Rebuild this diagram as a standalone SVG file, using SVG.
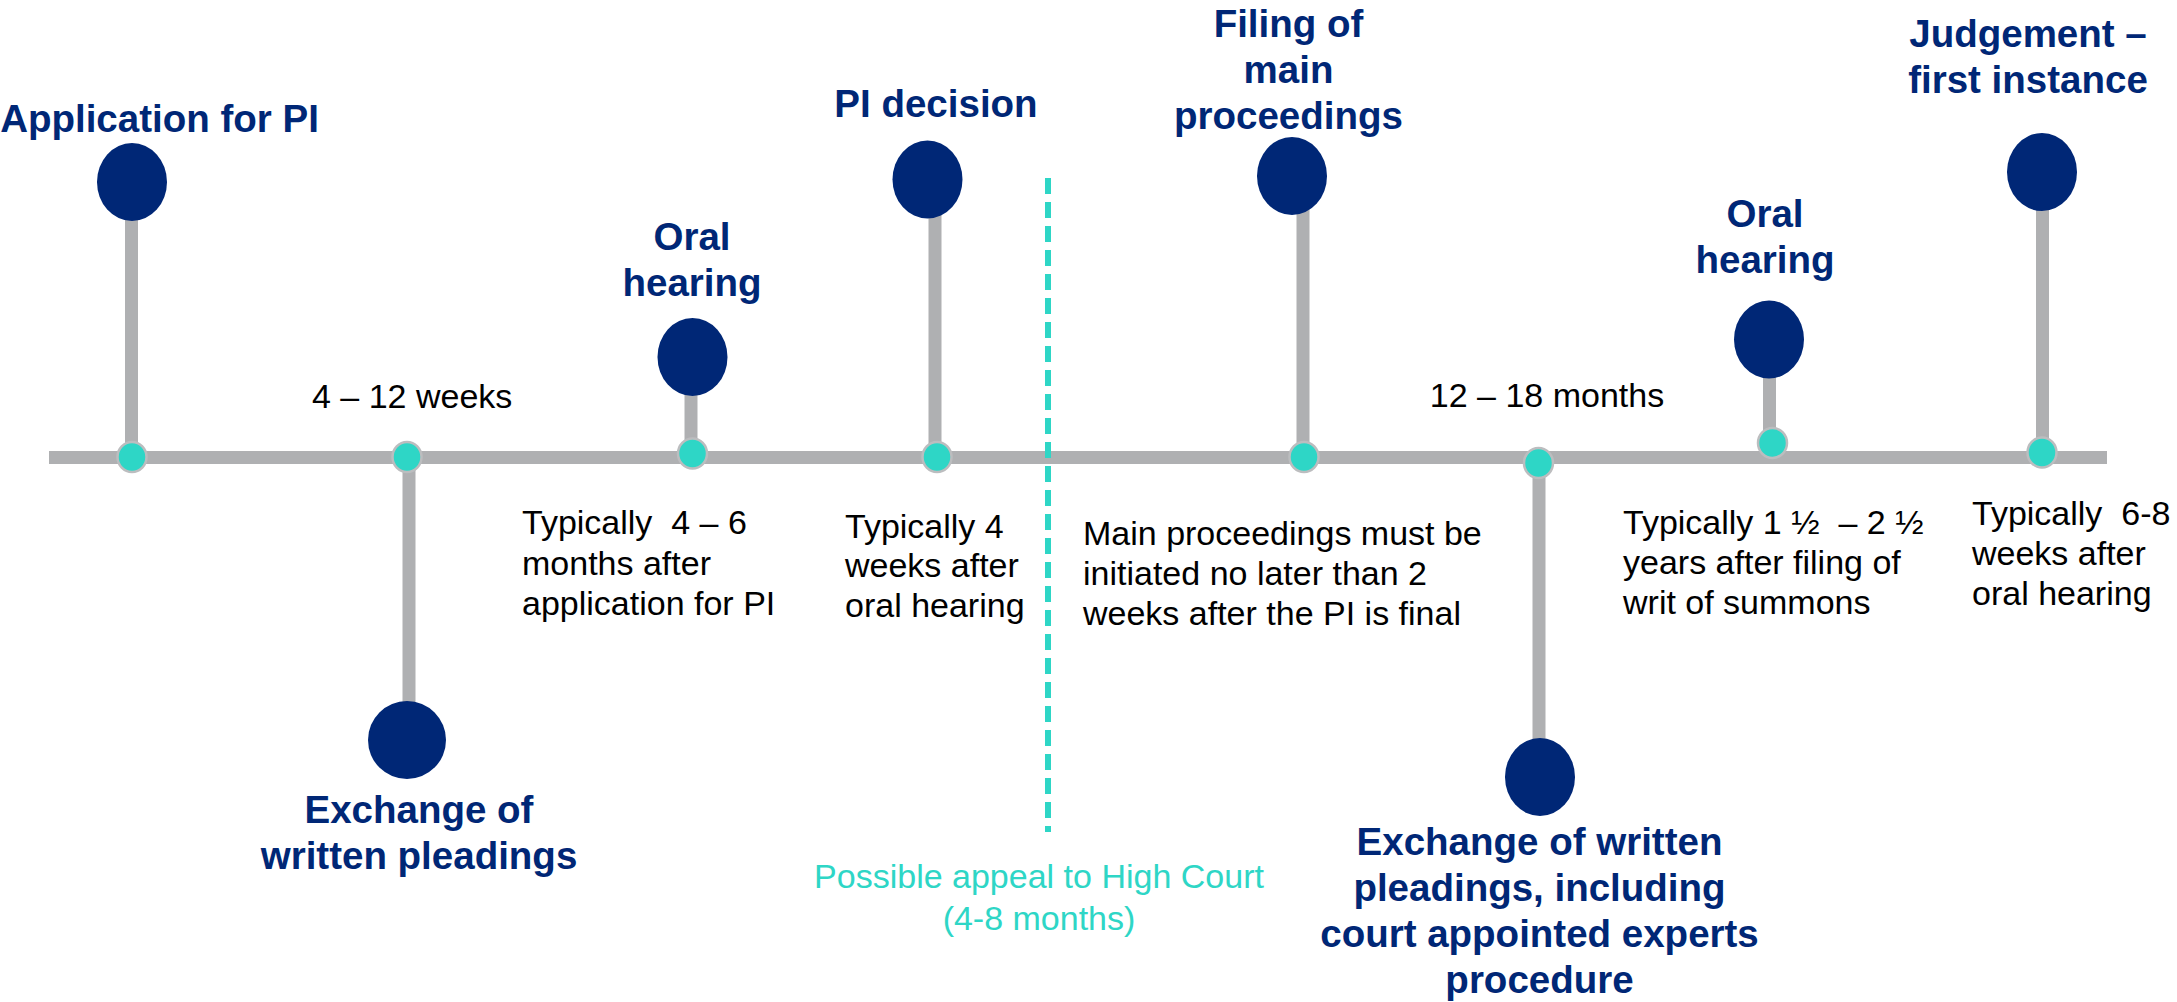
<svg xmlns="http://www.w3.org/2000/svg" width="2177" height="1002" viewBox="0 0 2177 1002">
<style>
.bg{fill:#ffffff}
.ln{stroke:#AFB0B2;stroke-width:13;fill:none}
.dash{stroke:#2ED6C6;stroke-width:6;stroke-dasharray:16 8;fill:none}
.big{fill:#002776}
.dot{fill:#2ED6C6;stroke:#BCBDBF;stroke-width:2.5}
.h{font-family:"Liberation Sans",Arial,sans-serif;font-weight:bold;font-size:38.5px;fill:#002776;text-anchor:middle}
.b{font-family:"Liberation Sans",Arial,sans-serif;font-size:34px;fill:#000000;white-space:pre}
.t{font-family:"Liberation Sans",Arial,sans-serif;font-size:34px;fill:#2ED6C6;text-anchor:middle}
</style>
<rect class="bg" x="0" y="0" width="2177" height="1002"/>
<g id="connectors">
<line class="ln" x1="49" y1="457.5" x2="2107" y2="457.5"/>
<line class="ln" x1="131.5" y1="215" x2="131.5" y2="457"/>
<line class="ln" x1="409" y1="457" x2="409" y2="710"/>
<line class="ln" x1="691" y1="390" x2="691" y2="454"/>
<line class="ln" x1="935" y1="212" x2="935" y2="457"/>
<line class="ln" x1="1303" y1="208" x2="1303" y2="457"/>
<line class="ln" x1="1539" y1="463" x2="1539" y2="745"/>
<line class="ln" x1="1769.5" y1="372" x2="1769.5" y2="443"/>
<line class="ln" x1="2042.5" y1="205" x2="2042.5" y2="452"/>
<line class="dash" x1="1048" y1="178" x2="1048" y2="832"/>
</g>
<g id="node-application">
<ellipse class="big" cx="132" cy="182" rx="35" ry="39"/>
<ellipse class="dot" cx="132" cy="457" rx="14.5" ry="15"/>
<text class="h" x="159.5" y="132">Application for PI</text>
</g>
<g id="node-exchange-1">
<ellipse class="big" cx="407" cy="740" rx="39" ry="39"/>
<ellipse class="dot" cx="407" cy="457" rx="14.5" ry="15"/>
<text class="h" x="419" y="823">Exchange of</text>
<text class="h" x="419" y="869">written pleadings</text>
</g>
<g id="node-oral-1">
<ellipse class="big" cx="692.5" cy="357" rx="35" ry="39"/>
<ellipse class="dot" cx="692.5" cy="453.5" rx="14.5" ry="15"/>
<text class="h" x="692" y="250">Oral</text>
<text class="h" x="692" y="296">hearing</text>
</g>
<g id="node-pi-decision">
<ellipse class="big" cx="927.5" cy="179.5" rx="35" ry="39"/>
<ellipse class="dot" cx="937" cy="457" rx="14.5" ry="15"/>
<text class="h" x="936" y="117">PI decision</text>
</g>
<g id="node-filing">
<ellipse class="big" cx="1292" cy="176" rx="35" ry="39"/>
<ellipse class="dot" cx="1304" cy="457" rx="14.5" ry="15"/>
<text class="h" x="1288.5" y="37">Filing of</text>
<text class="h" x="1288.5" y="83">main</text>
<text class="h" x="1288.5" y="129">proceedings</text>
</g>
<g id="node-exchange-2">
<ellipse class="big" cx="1540" cy="777" rx="35" ry="39"/>
<ellipse class="dot" cx="1538.5" cy="463" rx="14.5" ry="15"/>
<text class="h" x="1539.5" y="855">Exchange of written</text>
<text class="h" x="1539.5" y="901">pleadings, including</text>
<text class="h" x="1539.5" y="947">court appointed experts</text>
<text class="h" x="1539.5" y="993">procedure</text>
</g>
<g id="node-oral-2">
<ellipse class="big" cx="1769" cy="339.5" rx="35" ry="39"/>
<ellipse class="dot" cx="1772.5" cy="443" rx="14.5" ry="15"/>
<text class="h" x="1765" y="227">Oral</text>
<text class="h" x="1765" y="273">hearing</text>
</g>
<g id="node-judgement">
<ellipse class="big" cx="2042" cy="172" rx="35" ry="39"/>
<ellipse class="dot" cx="2042" cy="452.5" rx="14.5" ry="15"/>
<text class="h" x="2028" y="47">Judgement –</text>
<text class="h" x="2028" y="93">first instance</text>
</g>
<g id="annotations">
<text class="b" x="312" y="408">4 – 12 weeks</text>
<text class="b" x="1547" y="407" style="text-anchor:middle">12 – 18 months</text>
<text class="b" x="522" y="534">Typically  4 – 6</text>
<text class="b" x="522" y="575">months after</text>
<text class="b" x="522" y="615">application for PI</text>
<text class="b" x="845" y="538">Typically 4</text>
<text class="b" x="845" y="577">weeks after</text>
<text class="b" x="845" y="617">oral hearing</text>
<text class="b" x="1083" y="545">Main proceedings must be</text>
<text class="b" x="1083" y="585">initiated no later than 2</text>
<text class="b" x="1083" y="625">weeks after the PI is final</text>
<text class="b" x="1623" y="534">Typically 1 ½  – 2 ½</text>
<text class="b" x="1623" y="574">years after filing of</text>
<text class="b" x="1623" y="614">writ of summons</text>
<text class="b" x="1972" y="525">Typically  6-8</text>
<text class="b" x="1972" y="565">weeks after</text>
<text class="b" x="1972" y="605">oral hearing</text>
<text class="t" x="1039" y="888">Possible appeal to High Court</text>
<text class="t" x="1039" y="930">(4-8 months)</text>
</g>
</svg>
